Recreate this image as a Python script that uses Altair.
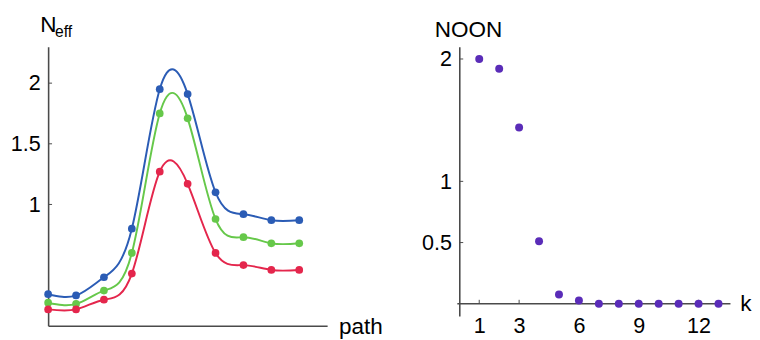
import altair as alt
import pandas as pd

# ---------------- data ----------------
path_idx = list(range(10))
blue_vals = [0.26, 0.25, 0.40, 0.80, 1.95, 1.91, 1.10, 0.92, 0.87, 0.87]
green_vals = [0.19, 0.18, 0.29, 0.60, 1.75, 1.71, 0.88, 0.73, 0.68, 0.68]
red_vals = [0.135, 0.135, 0.215, 0.43, 1.27, 1.17, 0.60, 0.50, 0.46, 0.46]
series_names = ["blue", "green", "red"]
series_colors = ["#2b5cb5", "#66c84a", "#e4264c"]
left_yticks = [1, 1.5, 2]

k_vals = list(range(1, 14))
noon_vals = [2.0, 1.92, 1.44, 0.51, 0.075, 0.027, 0, 0, 0, 0, 0, 0, 0]
right_yticks = [0.5, 1, 2]
right_xticks = [1, 3, 6, 9, 12]

FONT = "Liberation Sans"
AXIS_COLOR = "#4a4a4a"
LBL = 22
TTL = 23
NUMFMT = ".1~f"

# ---------------- left panel ----------------
rows = []
for name, vals in zip(series_names, [blue_vals, green_vals, red_vals]):
    for p, v in zip(path_idx, vals):
        rows.append({"path": p, "N": v, "series": name})
left_df = pd.DataFrame(rows)

LW, LH = 285, 285
lx_scale = alt.Scale(domain=[0, 10], nice=False, zero=False)
ly_scale = alt.Scale(domain=[0, 2.3], nice=False, zero=False)

lx_axis = alt.Axis(title=None, labels=False, ticks=False, grid=False,
                   domainColor=AXIS_COLOR, domainWidth=1.6)
ly_axis = alt.Axis(title=None, values=left_yticks, format=NUMFMT, ticks=False,
                   labelPadding=8, labelFontSize=LBL, labelFont=FONT,
                   labelColor="black", grid=False,
                   domainColor=AXIS_COLOR, domainWidth=1.6)
lx = alt.X("path:Q", scale=lx_scale, axis=lx_axis)
ly = alt.Y("N:Q", scale=ly_scale, axis=ly_axis)
col = alt.Color("series:N", scale=alt.Scale(domain=series_names, range=series_colors),
                legend=None)

lbase = alt.Chart(left_df).encode(x=lx, y=ly, color=col)
llines = lbase.mark_line(interpolate="natural", strokeWidth=2)
lpoints = lbase.mark_circle(size=62, opacity=1)

lticks = alt.Chart(pd.DataFrame({"v": left_yticks})).mark_rule(
    color=AXIS_COLOR, strokeWidth=1).encode(
    y=alt.Y("v:Q", scale=ly_scale, axis=ly_axis), x=alt.value(0), x2=alt.value(4))

one = pd.DataFrame({"a": [0]})
t_N = alt.Chart(one).mark_text(text="N", font=FONT, fontSize=TTL, align="left",
                               baseline="alphabetic", color="black").encode(
    x=alt.value(-8), y=alt.value(-15))
t_eff = alt.Chart(one).mark_text(text="eff", font=FONT, fontSize=16, align="left",
                                 baseline="alphabetic", color="black").encode(
    x=alt.value(7), y=alt.value(-10))
t_path = alt.Chart(one).mark_text(text="path", font=FONT, fontSize=TTL, align="left",
                                  baseline="alphabetic", color="black").encode(
    x=alt.value(297), y=alt.value(LH + 8))

left = alt.layer(llines, lpoints, lticks, t_N, t_eff, t_path).properties(
    width=LW, height=LH)

# ---------------- right panel ----------------
right_df = pd.DataFrame({"k": k_vals, "noon": noon_vals})
RW, RH = 277, 275
rx_scale = alt.Scale(domain=[0, 13.6], nice=False, zero=False)
ry_scale = alt.Scale(domain=[-0.1, 2.1], nice=False, zero=False)
zero_px = RH * 2.1 / 2.2

rx_axis = alt.Axis(title=None, values=right_xticks, format="d", ticks=False,
                   domain=False, labelPadding=0, labelFontSize=LBL,
                   labelFont=FONT, labelColor="black", grid=False)
ry_axis = alt.Axis(title=None, values=right_yticks, format=NUMFMT, ticks=False,
                   labelPadding=8, labelFontSize=LBL, labelFont=FONT,
                   labelColor="black", grid=False,
                   domainColor=AXIS_COLOR, domainWidth=1.6)
rx = alt.X("k:Q", scale=rx_scale, axis=rx_axis)
ry = alt.Y("noon:Q", scale=ry_scale, axis=ry_axis)

rpoints = alt.Chart(right_df).mark_circle(size=66, opacity=1, color="#5a2cb8").encode(
    x=rx, y=ry)

zero_line = alt.Chart(pd.DataFrame({"z": [0]})).mark_rule(
    color=AXIS_COLOR, strokeWidth=1.6).encode(
    y=alt.Y("z:Q", scale=ry_scale, axis=ry_axis), x=alt.value(-2), x2=alt.value(RW))

rxt = alt.Chart(pd.DataFrame({"t": right_xticks})).mark_rule(
    color=AXIS_COLOR, strokeWidth=1).encode(
    x=alt.X("t:Q", scale=rx_scale, axis=rx_axis),
    y=alt.value(zero_px - 4), y2=alt.value(zero_px))

ryt = alt.Chart(pd.DataFrame({"v": right_yticks})).mark_rule(
    color=AXIS_COLOR, strokeWidth=1).encode(
    y=alt.Y("v:Q", scale=ry_scale, axis=ry_axis), x=alt.value(0), x2=alt.value(4))

t_noon = alt.Chart(one).mark_text(text="NOON", font=FONT, fontSize=TTL, align="left",
                                  baseline="alphabetic", color="black").encode(
    x=alt.value(-25), y=alt.value(-10))
t_k = alt.Chart(one).mark_text(text="k", font=FONT, fontSize=TTL, align="left",
                               baseline="middle", color="black").encode(
    x=alt.value(287), y=alt.value(zero_px))

right = alt.layer(zero_line, rxt, ryt, rpoints, t_noon, t_k).properties(
    width=RW, height=RH)

chart = alt.hconcat(left, right, spacing=39).properties(
    padding={"left": 2, "top": 3, "right": 0, "bottom": 0},
    background="white",
).configure_view(stroke=None)

chart.save("out.html", embed_options={"renderer": "svg", "actions": False})
